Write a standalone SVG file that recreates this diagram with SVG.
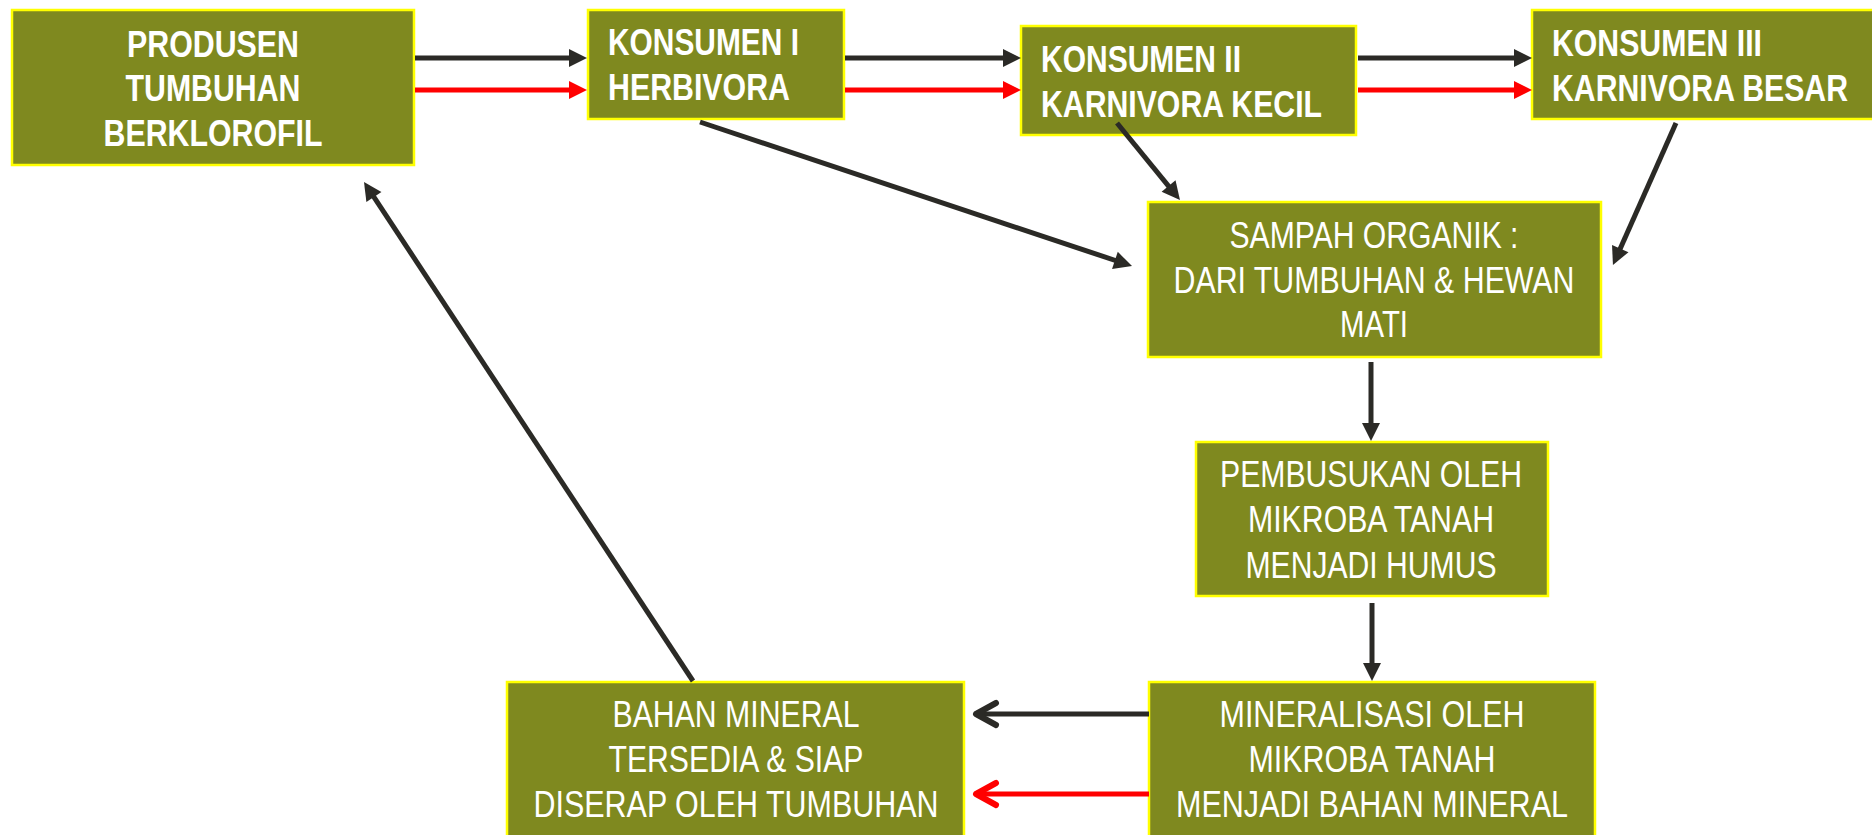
<svg xmlns="http://www.w3.org/2000/svg" width="1872" height="835" viewBox="0 0 1872 835">
<style>
.box{fill:#7f891f;stroke:#ffff00;stroke-width:2.5}
.t{fill:#ffffff;font-family:"Liberation Sans",Arial,sans-serif;font-size:37px}
.b{font-weight:bold}
.c{text-anchor:middle}
.k{stroke:#2b2a26;stroke-width:5;fill:none}
.r{stroke:#ff0000;stroke-width:5;fill:none}
</style>
<defs>
<marker id="ak" markerUnits="userSpaceOnUse" markerWidth="20" markerHeight="20" refX="10" refY="9" orient="auto" overflow="visible"><path d="M0,0 L18,9 L0,18 z" fill="#2b2a26"/></marker>
<marker id="ar" markerUnits="userSpaceOnUse" markerWidth="20" markerHeight="20" refX="10" refY="9" orient="auto" overflow="visible"><path d="M0,0 L18,9 L0,18 z" fill="#ff0000"/></marker>
<marker id="ck" markerUnits="userSpaceOnUse" markerWidth="30" markerHeight="30" refX="0" refY="0" orient="auto" overflow="visible"><path d="M-20,-11 L0,0 L-20,11" fill="none" stroke="#2b2a26" stroke-width="6" stroke-linecap="round" stroke-linejoin="round"/></marker>
<marker id="cr" markerUnits="userSpaceOnUse" markerWidth="30" markerHeight="30" refX="0" refY="0" orient="auto" overflow="visible"><path d="M-20,-11 L0,0 L-20,11" fill="none" stroke="#ff0000" stroke-width="6" stroke-linecap="round" stroke-linejoin="round"/></marker>
</defs>
<rect width="1872" height="835" fill="#ffffff"/>
<g id="produsen">
<rect class="box" x="12" y="10" width="402" height="155"/>
<text class="t b c" x="213" y="57" textLength="172" lengthAdjust="spacingAndGlyphs">PRODUSEN</text>
<text class="t b c" x="213" y="101" textLength="175" lengthAdjust="spacingAndGlyphs">TUMBUHAN</text>
<text class="t b c" x="213" y="146" textLength="219" lengthAdjust="spacingAndGlyphs">BERKLOROFIL</text>
</g>
<g id="konsumen1">
<rect class="box" x="588" y="10" width="256" height="109"/>
<text class="t b" x="608" y="55" textLength="191" lengthAdjust="spacingAndGlyphs">KONSUMEN I</text>
<text class="t b" x="608" y="100" textLength="182" lengthAdjust="spacingAndGlyphs">HERBIVORA</text>
</g>
<g id="konsumen2">
<rect class="box" x="1021" y="26" width="335" height="109"/>
<text class="t b" x="1041" y="72" textLength="200" lengthAdjust="spacingAndGlyphs">KONSUMEN II</text>
<text class="t b" x="1041" y="117" textLength="281" lengthAdjust="spacingAndGlyphs">KARNIVORA KECIL</text>
</g>
<g id="konsumen3">
<rect class="box" x="1532" y="10" width="350" height="109"/>
<text class="t b" x="1552" y="56" textLength="210" lengthAdjust="spacingAndGlyphs">KONSUMEN III</text>
<text class="t b" x="1552" y="101" textLength="296" lengthAdjust="spacingAndGlyphs">KARNIVORA BESAR</text>
</g>
<g id="sampah">
<rect class="box" x="1148" y="202" width="453" height="155"/>
<text class="t c" x="1374" y="248" textLength="289" lengthAdjust="spacingAndGlyphs">SAMPAH ORGANIK :</text>
<text class="t c" x="1374" y="293" textLength="401" lengthAdjust="spacingAndGlyphs">DARI TUMBUHAN &amp; HEWAN</text>
<text class="t c" x="1374" y="337" textLength="68" lengthAdjust="spacingAndGlyphs">MATI</text>
</g>
<g id="pembusukan">
<rect class="box" x="1196" y="442" width="352" height="154"/>
<text class="t c" x="1371" y="487" textLength="302" lengthAdjust="spacingAndGlyphs">PEMBUSUKAN OLEH</text>
<text class="t c" x="1371" y="532" textLength="246" lengthAdjust="spacingAndGlyphs">MIKROBA TANAH</text>
<text class="t c" x="1371" y="578" textLength="251" lengthAdjust="spacingAndGlyphs">MENJADI HUMUS</text>
</g>
<g id="mineralisasi">
<rect class="box" x="1149" y="682" width="446" height="170"/>
<text class="t c" x="1372" y="727" textLength="305" lengthAdjust="spacingAndGlyphs">MINERALISASI OLEH</text>
<text class="t c" x="1372" y="772" textLength="247" lengthAdjust="spacingAndGlyphs">MIKROBA TANAH</text>
<text class="t c" x="1372" y="817" textLength="392" lengthAdjust="spacingAndGlyphs">MENJADI BAHAN MINERAL</text>
</g>
<g id="bahan">
<rect class="box" x="507" y="682" width="457" height="170"/>
<text class="t c" x="736" y="727" textLength="247" lengthAdjust="spacingAndGlyphs">BAHAN MINERAL</text>
<text class="t c" x="736" y="772" textLength="255" lengthAdjust="spacingAndGlyphs">TERSEDIA &amp; SIAP</text>
<text class="t c" x="736" y="817" textLength="405" lengthAdjust="spacingAndGlyphs">DISERAP OLEH TUMBUHAN</text>
</g>
<g id="connectors">
<line class="k" x1="415" y1="58" x2="579" y2="58" marker-end="url(#ak)"/>
<line class="r" x1="415" y1="90" x2="579" y2="90" marker-end="url(#ar)"/>
<line class="k" x1="845" y1="58" x2="1013" y2="58" marker-end="url(#ak)"/>
<line class="r" x1="845" y1="90" x2="1013" y2="90" marker-end="url(#ar)"/>
<line class="k" x1="1358" y1="58" x2="1524" y2="58" marker-end="url(#ak)"/>
<line class="r" x1="1358" y1="90" x2="1524" y2="90" marker-end="url(#ar)"/>
<line class="k" x1="700" y1="122" x2="1124.4" y2="263.5" marker-end="url(#ak)"/>
<line class="k" x1="1117" y1="123" x2="1174.9" y2="193.8" marker-end="url(#ak)"/>
<line class="k" x1="1676" y1="123" x2="1616.2" y2="257.7" marker-end="url(#ak)"/>
<line class="k" x1="1371" y1="362" x2="1371" y2="433" marker-end="url(#ak)"/>
<line class="k" x1="1372" y1="603" x2="1372" y2="673" marker-end="url(#ak)"/>
<line class="k" x1="1149" y1="714" x2="976" y2="714" marker-end="url(#ck)"/>
<line class="r" x1="1149" y1="794" x2="976" y2="794" marker-end="url(#cr)"/>
<line class="k" x1="693" y1="681" x2="368.4" y2="188.7" marker-end="url(#ak)"/>
</g>
</svg>
